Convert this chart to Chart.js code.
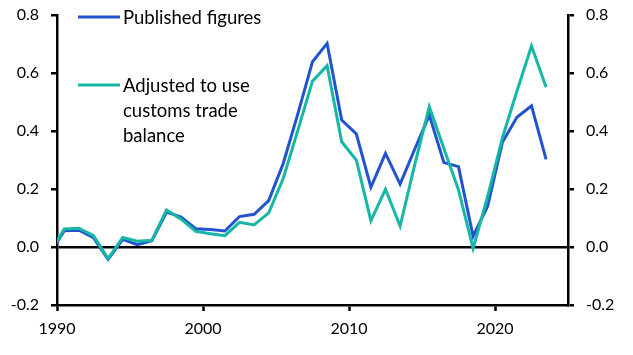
<!DOCTYPE html>
<html>
<head>
<meta charset="utf-8">
<script src="https://cdn.jsdelivr.net/npm/chart.js@4/dist/chart.umd.min.js"></script>
<style>
html,body{margin:0;padding:0;background:#fff;}
#wrap{width:633px;height:355px;}
</style>
</head>
<body>
<div id="wrap"><canvas id="c" width="633" height="355"></canvas></div>
<script>
// Annual data, plotted at mid-year
const years = [1989,1990,1991,1992,1993,1994,1995,1996,1997,1998,1999,2000,2001,2002,2003,2004,2005,2006,2007,2008,2009,2010,2011,2012,2013,2014,2015,2016,2017,2018,2019,2020,2021,2022,2023];
const published = [-0.025,0.056,0.058,0.032,-0.043,0.026,0.008,0.022,0.120,0.103,0.063,0.060,0.055,0.105,0.113,0.160,0.289,0.460,0.639,0.702,0.438,0.390,0.206,0.323,0.217,0.337,0.455,0.291,0.277,0.037,0.141,0.360,0.447,0.487,0.302];
const adjusted  = [-0.020,0.062,0.065,0.039,-0.040,0.033,0.020,0.023,0.128,0.096,0.054,0.046,0.039,0.085,0.076,0.118,0.237,0.403,0.572,0.625,0.363,0.300,0.091,0.199,0.072,0.283,0.484,0.340,0.197,-0.005,0.175,0.375,0.537,0.693,0.551];
const seriesNames = ["Published figures", ["Adjusted to use","customs trade","balance"]];
const yTicks = [-0.2,0,0.2,0.4,0.6,0.8];
const xTicks = [1990,2000,2010,2020];

const BLUE = '#2253CF';
const TEAL = '#17B7A5';
const FONT = 'Lato, "Open Sans", sans-serif';

const toPts = arr => arr.map((v,i)=>({x: years[i]+0.5, y: v}));

const legendPlugin = {
  id: 'customLegend',
  afterDraw(chart){
    const ctx = chart.ctx, ca = chart.chartArea;
    ctx.save();
    ctx.font = '18.5px ' + FONT;
    ctx.fillStyle = '#000';
    ctx.textBaseline = 'middle';
    ctx.textAlign = 'left';
    const items = [{c: BLUE, t: seriesNames[0], y: ca.top + 2},
                   {c: TEAL, t: seriesNames[1], y: ca.top + 70}];
    items.forEach(it=>{
      ctx.strokeStyle = it.c; ctx.lineWidth = 3;
      ctx.beginPath(); ctx.moveTo(ca.left+21, it.y); ctx.lineTo(ca.left+63, it.y); ctx.stroke();
      const lines = Array.isArray(it.t) ? it.t : [it.t];
      lines.forEach((l,k)=> ctx.fillText(l, ca.left+66, it.y + 1 + k*25));
    });
    ctx.restore();
  }
};

const axisY = (pos) => ({
  type: 'linear', position: pos, min: -0.2, max: 0.8,
  afterBuildTicks: s => { s.ticks = yTicks.map(v=>({value:v})); },
  afterFit: s => { s.width = pos === 'left' ? 57 : 65; s.paddingTop = 0; s.paddingBottom = 0; },
  border: {display: true, color: '#000', width: 2.5},
  grid: {
    drawOnChartArea: pos === 'left',
    color: c => (c.tick && Math.abs(c.tick.value) < 1e-9) ? '#000' : 'rgba(0,0,0,0)',
    lineWidth: 2.5,
    tickColor: '#000', tickLength: 6, tickWidth: 2.5
  },
  ticks: {
    color: '#000', padding: 12, font: {family: FONT, size: 16},
    callback: v => v.toFixed(1)
  }
});

new Chart(document.getElementById('c'), {
  type: 'line',
  data: {
    datasets: [
      {label: 'Published figures', data: toPts(published), borderColor: BLUE, borderWidth: 3, pointRadius: 0, tension: 0, clip: 0, order: 2},
      {label: 'Adjusted to use customs trade balance', data: toPts(adjusted), borderColor: TEAL, borderWidth: 3, pointRadius: 0, tension: 0, clip: 0, order: 1}
    ]
  },
  options: {
    responsive: false, animation: false,
    layout: {padding: {top: 15, left: 0, right: 0, bottom: 0}},
    plugins: {legend: {display: false}, tooltip: {enabled: false}},
    scales: {
      x: {
        type: 'linear', min: 1990, max: 2025,
        afterBuildTicks: s => { s.ticks = xTicks.map(v=>({value:v})); },
        afterFit: s => { s.height = 50; s.paddingLeft = 0; s.paddingRight = 0; },
        border: {display: true, color: '#000', width: 2.5},
        grid: {drawOnChartArea: false, tickColor: '#000', tickLength: 6, tickWidth: 2.5},
        ticks: {color: '#000', padding: 8, font: {family: FONT, size: 16}, callback: v => String(v), maxRotation: 0}
      },
      y: axisY('left'),
      y2: axisY('right')
    }
  },
  plugins: [legendPlugin]
});
</script>
</body>
</html>
